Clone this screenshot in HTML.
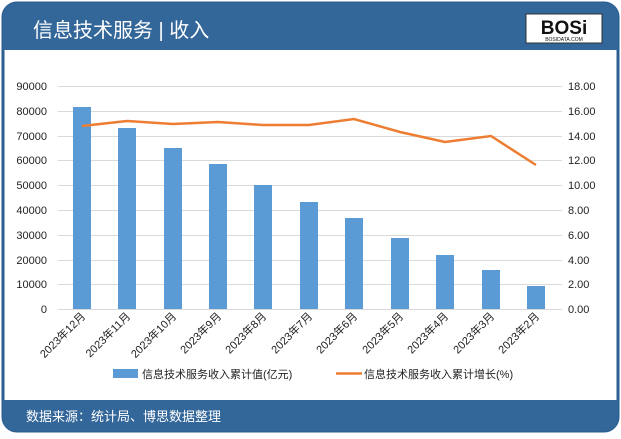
<!DOCTYPE html>
<html><head><meta charset="utf-8"><style>
html,body{margin:0;padding:0;background:#fff;}
body{width:621px;height:434px;overflow:hidden;font-family:"Liberation Sans","Noto Sans CJK SC",sans-serif;}
</style></head><body>
<svg width="621" height="434" xmlns="http://www.w3.org/2000/svg" font-family="Liberation Sans, Noto Sans CJK SC, sans-serif">
<rect x="3" y="3" width="615" height="428" rx="14" fill="#fff" stroke="#2e5f92" stroke-width="3"/>
<path d="M3 50 V17 Q3 3 17 3 H604 Q618 3 618 17 V50 Z" fill="#336699"/>
<path d="M3 400 H618 V417 Q618 431 604 431 H17 Q3 431 3 417 Z" fill="#336699"/>
<text x="33" y="37" font-size="20" fill="#fff">信息技术服务 | 收入</text>
<rect x="526" y="14" width="76" height="29" fill="#fff" stroke="#333" stroke-width="1"/>
<text x="564" y="34" font-size="19" font-weight="bold" text-anchor="middle" fill="#111">BOSi</text>
<text x="564" y="41" font-size="5" text-anchor="middle" fill="#111">BOSIDATA.COM</text>
<text x="26" y="421" font-size="13" fill="#fff">数据来源：统计局、博思数据整理</text>
<g stroke="#d9d9d9" stroke-width="1">
<line x1="58" y1="86.5" x2="562" y2="86.5"/><line x1="58" y1="111.5" x2="562" y2="111.5"/>
<line x1="58" y1="136.5" x2="562" y2="136.5"/><line x1="58" y1="160.5" x2="562" y2="160.5"/>
<line x1="58" y1="185.5" x2="562" y2="185.5"/><line x1="58" y1="210.5" x2="562" y2="210.5"/>
<line x1="58" y1="235.5" x2="562" y2="235.5"/><line x1="58" y1="260.5" x2="562" y2="260.5"/>
<line x1="58" y1="284.5" x2="562" y2="284.5"/><line x1="58" y1="309.5" x2="562" y2="309.5"/>
</g>
<g font-size="11" fill="#222" text-anchor="end">
<text x="47" y="90">90000</text><text x="47" y="115">80000</text><text x="47" y="140">70000</text><text x="47" y="164">60000</text><text x="47" y="189">50000</text><text x="47" y="214">40000</text><text x="47" y="239">30000</text><text x="47" y="264">20000</text><text x="47" y="288">10000</text><text x="47" y="313">0</text>
</g>
<g font-size="11" fill="#222">
<text x="568" y="90">18.00</text><text x="568" y="115">16.00</text><text x="568" y="140">14.00</text><text x="568" y="164">12.00</text><text x="568" y="189">10.00</text><text x="568" y="214">8.00</text><text x="568" y="239">6.00</text><text x="568" y="264">4.00</text><text x="568" y="288">2.00</text><text x="568" y="313">0.00</text>
</g>
<g fill="#5b9bd5">
<rect x="73" y="107" width="18" height="202"/>
<rect x="118" y="128" width="18" height="181"/>
<rect x="164" y="148" width="18" height="161"/>
<rect x="209" y="164" width="18" height="145"/>
<rect x="254" y="185" width="18" height="124"/>
<rect x="300" y="202" width="18" height="107"/>
<rect x="345" y="218" width="18" height="91"/>
<rect x="391" y="238" width="18" height="71"/>
<rect x="436" y="255" width="18" height="54"/>
<rect x="482" y="270" width="18" height="39"/>
<rect x="527" y="286" width="18" height="23"/>
</g>
<polyline fill="none" stroke="#ed7d31" stroke-width="2.5" points="82,126 127,121 173,124 218,122 263,125 309,125 354,119 400,132 445,142 491,136 536,165"/>
<g font-size="11" fill="#222" text-anchor="end">
<text transform="translate(86,317) rotate(-45)">2023年12月</text>
<text transform="translate(131,317) rotate(-45)">2023年11月</text>
<text transform="translate(177,317) rotate(-45)">2023年10月</text>
<text transform="translate(222,317) rotate(-45)">2023年9月</text>
<text transform="translate(267,317) rotate(-45)">2023年8月</text>
<text transform="translate(313,317) rotate(-45)">2023年7月</text>
<text transform="translate(358,317) rotate(-45)">2023年6月</text>
<text transform="translate(404,317) rotate(-45)">2023年5月</text>
<text transform="translate(449,317) rotate(-45)">2023年4月</text>
<text transform="translate(495,317) rotate(-45)">2023年3月</text>
<text transform="translate(540,317) rotate(-45)">2023年2月</text>
</g>
<rect x="113" y="369" width="25" height="9" fill="#5b9bd5"/>
<text x="142" y="378" font-size="11" fill="#222">信息技术服务收入累计值(亿元)</text>
<line x1="336" y1="373.5" x2="362" y2="373.5" stroke="#ed7d31" stroke-width="2.5"/>
<text x="364" y="378" font-size="11" fill="#222">信息技术服务收入累计增长(%)</text>
</svg>
</body></html>
